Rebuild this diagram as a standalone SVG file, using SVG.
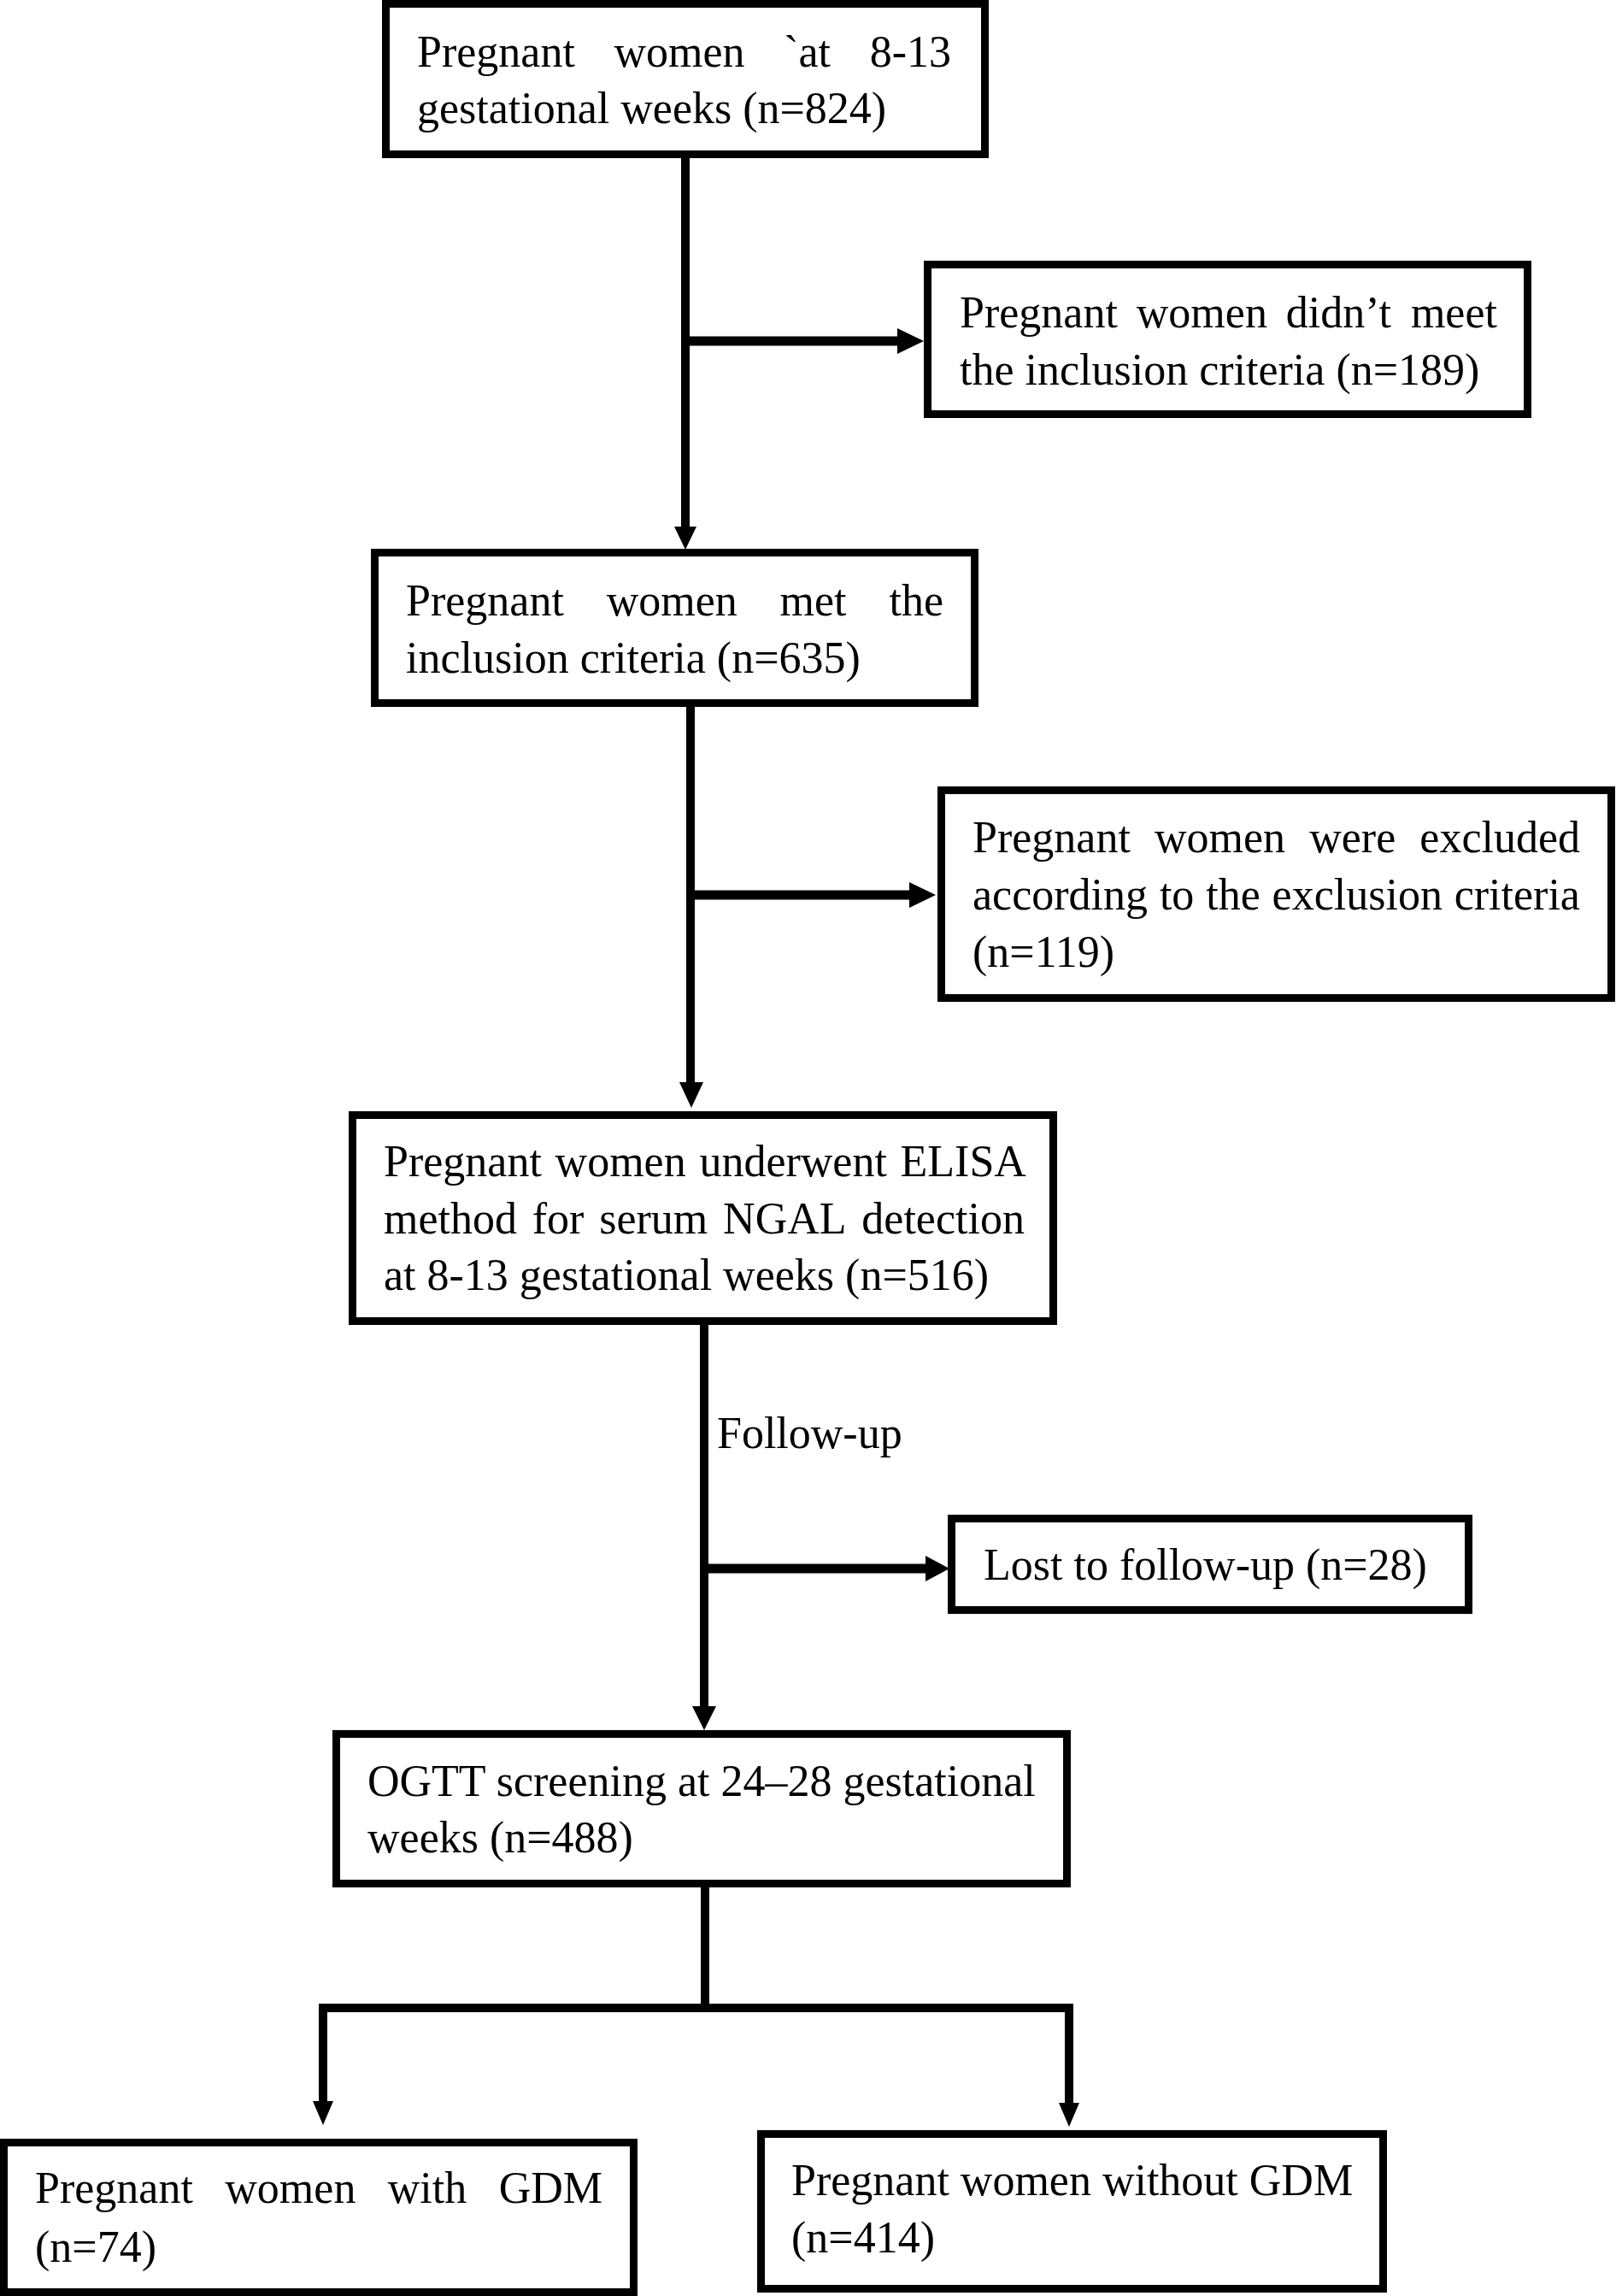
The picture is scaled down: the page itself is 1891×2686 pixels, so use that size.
<svg xmlns="http://www.w3.org/2000/svg" width="1891" height="2686" viewBox="0 0 1891 2686">
<style>
.box{fill:#fff;stroke:#000;stroke-width:9}
.t{font-family:"Liberation Serif","Times New Roman",serif;font-size:52px;fill:#000}
.ln{stroke:#000;stroke-width:10;fill:none}
.br{stroke:#000;stroke-width:11;fill:none}
.ah{fill:#000}
</style>
<rect width="1891" height="2686" fill="#fff"/>
<g id="connectors">
<line class="ln" x1="802" y1="185" x2="802" y2="620"/>
<polygon class="ah" points="789,616 815,616 802,643"/>
<line class="br" x1="797" y1="399" x2="1052" y2="399"/>
<polygon class="ah" points="1050,384 1081,399 1050,414"/>
<line class="ln" x1="808" y1="827" x2="808" y2="1270"/>
<polygon class="ah" points="795,1266 823,1266 809,1296"/>
<line class="br" x1="803" y1="1047" x2="1066" y2="1047"/>
<polygon class="ah" points="1064,1032 1095,1047 1064,1062"/>
<line class="ln" x1="824" y1="1550" x2="824" y2="2000"/>
<polygon class="ah" points="810,1996 838,1996 824,2024"/>
<line class="br" x1="820" y1="1835" x2="1086" y2="1835"/>
<polygon class="ah" points="1083,1820 1111,1835 1083,1850"/>
<line class="ln" x1="825" y1="2208" x2="825" y2="2349"/>
<polyline class="ln" points="378,2460 378,2349 1251,2349 1251,2462"/>
<polygon class="ah" points="366,2458 390,2458 378,2486"/>
<polygon class="ah" points="1239,2460 1263,2460 1251,2488"/>
<text class="t" x="839" y="1694">Follow-up</text>
</g>
<g id="n1">
<rect class="box" x="451.5" y="4.5" width="701" height="176"/>
<text class="t" y="78"><tspan x="488">Pregnant</tspan><tspan x="718.5">women</tspan><tspan x="917.2">`at</tspan><tspan x="1017.7">8-13</tspan></text>
<text class="t" x="488" y="144">gestational weeks (n=824)</text>
</g>
<g id="n2">
<rect class="box" x="1085.5" y="309.5" width="702" height="175"/>
<text class="t" y="383"><tspan x="1123">Pregnant</tspan><tspan x="1329.8">women</tspan><tspan x="1504.8">didn’t</tspan><tspan x="1650.9">meet</tspan></text>
<text class="t" x="1123" y="450">the inclusion criteria (n=189)</text>
</g>
<g id="n3">
<rect class="box" x="438.5" y="646.5" width="702" height="176"/>
<text class="t" y="720"><tspan x="475">Pregnant</tspan><tspan x="709.7">women</tspan><tspan x="912.6">met</tspan><tspan x="1040.5">the</tspan></text>
<text class="t" x="475" y="787">inclusion criteria (n=635)</text>
</g>
<g id="n4">
<rect class="box" x="1101.5" y="924.5" width="784" height="243"/>
<text class="t" y="997"><tspan x="1138">Pregnant</tspan><tspan x="1351">women</tspan><tspan x="1532.2">were</tspan><tspan x="1661.3">excluded</tspan></text>
<text class="t" y="1064"><tspan x="1138">according</tspan><tspan x="1356.9">to</tspan><tspan x="1411.2">the</tspan><tspan x="1488.6">exclusion</tspan><tspan x="1701.7">criteria</tspan></text>
<text class="t" x="1138" y="1131">(n=119)</text>
</g>
<g id="n5">
<rect class="box" x="412.5" y="1304.5" width="820" height="241"/>
<text class="t" y="1376"><tspan x="449">Pregnant</tspan><tspan x="649.6">women</tspan><tspan x="818.4">underwent</tspan><tspan x="1053.6">ELISA</tspan></text>
<text class="t" y="1443"><tspan x="449">method</tspan><tspan x="622.8">for</tspan><tspan x="701.2">serum</tspan><tspan x="846.1">NGAL</tspan><tspan x="1008.3">detection</tspan></text>
<text class="t" x="449" y="1509">at 8-13 gestational weeks (n=516)</text>
</g>
<g id="n6">
<rect class="box" x="1113.5" y="1776.5" width="605" height="107"/>
<text class="t" x="1151" y="1848">Lost to follow-up (n=28)</text>
</g>
<g id="n7">
<rect class="box" x="393.5" y="2028.5" width="855" height="175"/>
<text class="t" x="430" y="2101">OGTT screening at 24–28 gestational</text>
<text class="t" x="430" y="2167">weeks (n=488)</text>
</g>
<g id="n8">
<rect class="box" x="4.5" y="2506.5" width="737" height="175"/>
<text class="t" y="2577"><tspan x="41">Pregnant</tspan><tspan x="263.3">women</tspan><tspan x="453.8">with</tspan><tspan x="583.7">GDM</tspan></text>
<text class="t" x="41" y="2646">(n=74)</text>
</g>
<g id="n9">
<rect class="box" x="890.5" y="2496.5" width="728" height="181"/>
<text class="t" x="926" y="2568">Pregnant women without GDM</text>
<text class="t" x="926" y="2635">(n=414)</text>
</g>
</svg>
